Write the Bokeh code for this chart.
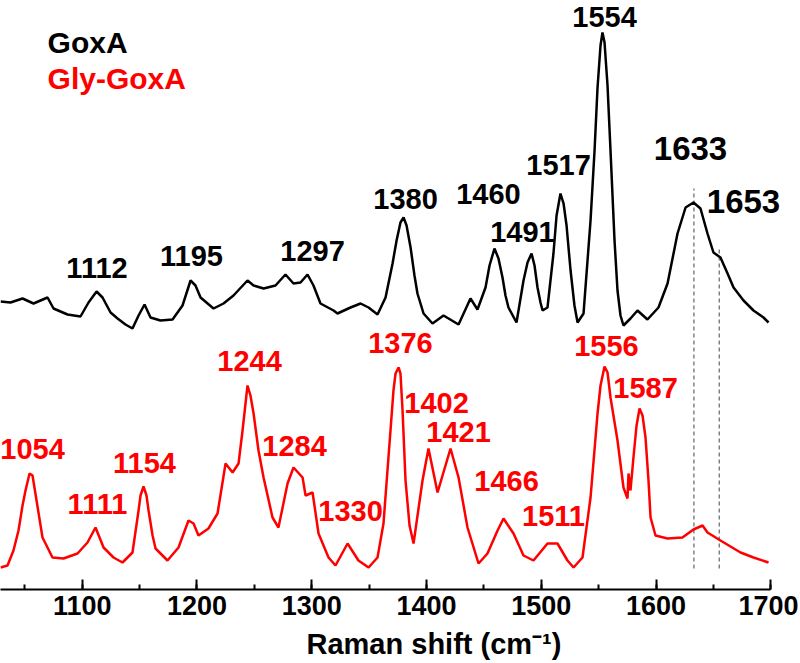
from bokeh.plotting import figure
from bokeh.models import Range1d, SingleIntervalTicker, ColumnDataSource, LabelSet, Title
from bokeh.core.properties import value
from bokeh.embed import file_html
from bokeh.resources import INLINE

# ---------------- data ----------------
goxa_x = [1028.8, 1037.5, 1048.0, 1057.6, 1069.8, 1075.0, 1087.2, 1098.5, 1105.5, 1112.5,
          1117.7, 1124.7, 1130.8, 1137.7, 1143.8, 1149.1, 1154.3, 1159.5, 1168.2, 1178.7,
          1187.4, 1194.4, 1198.7, 1203.1, 1214.4, 1223.1, 1231.8, 1244.0, 1249.3, 1258.0,
          1268.4, 1277.1, 1284.1, 1290.2, 1296.3, 1301.5, 1307.6, 1319.0, 1322.4, 1333.8,
          1342.5, 1349.5, 1357.3, 1364.3, 1370.4, 1373.9, 1377.3, 1380.0, 1382.6, 1386.1,
          1389.5, 1392.1, 1397.4, 1405.2, 1414.8, 1427.9, 1438.3, 1444.4, 1451.4, 1454.9,
          1459.2, 1462.7, 1466.2, 1468.8, 1471.4, 1478.4, 1484.5, 1488.0, 1491.5, 1494.1,
          1496.7, 1499.3, 1501.1, 1505.4, 1510.6, 1513.3, 1516.7, 1519.4, 1522.0, 1525.5,
          1528.9, 1531.6, 1536.8, 1542.9, 1546.4, 1549.0, 1551.6, 1553.3, 1555.1, 1557.7,
          1560.3, 1563.8, 1566.4, 1569.0, 1571.6, 1577.7, 1583.8, 1592.5, 1602.1, 1610.0,
          1618.7, 1625.7, 1632.6, 1638.7, 1644.8, 1650.0, 1656.1, 1662.3, 1667.5, 1676.2,
          1684.9, 1693.6, 1698.0]
goxa_y = [290, 289, 293, 288, 294, 283, 277, 275, 289, 300,
          294, 279, 273, 267, 263, 276, 287, 274, 271, 272,
          286, 311, 306, 294, 283, 288, 296, 311, 306, 303,
          306, 317, 308, 309, 317, 306, 288, 281, 278, 284,
          288, 284, 277, 294, 328, 351, 369, 374, 366, 344,
          316, 298, 278, 268, 276, 267, 293, 282, 304, 326,
          343, 333, 314, 296, 284, 269, 311, 329, 338, 326,
          304, 289, 281, 284, 338, 376, 398, 388, 366, 321,
          286, 269, 278, 371, 441, 504, 546, 559, 549, 506,
          441, 351, 301, 276, 266, 273, 281, 272, 284, 308,
          358, 384, 389, 383, 358, 339, 334, 318, 304, 291,
          281, 274, 269]

gly_x = [1028.8, 1034.9, 1040.1, 1044.5, 1048.0, 1050.6, 1054.1, 1056.7, 1060.2, 1065.4,
         1074.1, 1083.7, 1095.9, 1104.6, 1111.6, 1118.6, 1127.3, 1135.1, 1143.8, 1149.1,
         1150.8, 1153.4, 1156.0, 1157.8, 1161.3, 1163.9, 1174.3, 1183.9, 1192.6, 1197.0,
         1201.3, 1210.0, 1217.9, 1224.9, 1231.0, 1236.2, 1239.7, 1244.0, 1246.6, 1249.3,
         1253.6, 1258.0, 1265.8, 1271.0, 1278.9, 1284.1, 1292.0, 1294.6, 1300.7, 1305.9,
         1314.6, 1320.7, 1331.2, 1340.7, 1349.5, 1357.3, 1362.5, 1368.6, 1371.2, 1373.0,
         1375.6, 1377.3, 1379.1, 1381.7, 1385.2, 1388.7, 1396.5, 1401.7, 1409.6, 1420.9,
         1427.9, 1435.7, 1445.3, 1453.1, 1461.9, 1467.1, 1475.8, 1484.5, 1493.2, 1505.4,
         1514.1, 1522.8, 1528.1, 1535.9, 1542.9, 1549.0, 1551.6, 1555.1, 1557.7, 1560.3,
         1566.4, 1571.6, 1575.1, 1576.0, 1577.7, 1580.3, 1583.0, 1585.6, 1588.2, 1590.8,
         1593.4, 1595.2, 1599.5, 1610.0, 1623.0, 1632.6, 1640.5, 1644.8, 1656.1, 1673.6,
         1684.9, 1698.0]
gly_y = [24, 26, 41, 61, 86, 101, 118, 116, 91, 54,
         34, 33, 38, 49, 64, 44, 34, 29, 39, 81,
         96, 105, 96, 81, 56, 43, 31, 44, 71, 68,
         56, 63, 78, 128, 119, 128, 161, 206, 196, 178,
         141, 114, 74, 64, 108, 124, 114, 96, 99, 58,
         34, 26, 48, 31, 24, 34, 68, 161, 201, 218,
         224, 218, 181, 111, 66, 48, 111, 143, 99, 143,
         114, 64, 28, 38, 61, 73, 58, 36, 31, 48,
         48, 31, 24, 34, 94, 178, 206, 225, 219, 194,
         151, 104, 93, 118, 101, 134, 166, 183, 176, 154,
         111, 74, 56, 53, 54, 62, 66, 59, 51, 39,
         34, 29]

goxa_labels = ["1112", "1195", "1297", "1380", "1460", "1491", "1517", "1554"]
goxa_label_x = [1112.9, 1195.2, 1300.7, 1381.7, 1454.0, 1483.6, 1515.0, 1555.1]
goxa_label_y = [314, 326, 331, 383, 388, 350, 417, 565]

big_labels = ["1633", "1653"]
big_label_x = [1630.0, 1676.2]
big_label_y = [432, 379]

gly_labels = ["1054", "1111", "1154", "1244", "1284", "1330", "1376",
              "1402", "1421", "1466", "1511", "1556", "1587"]
gly_label_x = [1056.7, 1113.3, 1154.3, 1245.8, 1285.0, 1333.8, 1377.3,
               1408.7, 1427.9, 1469.7, 1510.6, 1556.8, 1590.8]
gly_label_y = [133, 78, 119, 221, 136, 71, 239,
               179, 150, 101, 66, 236, 194]

dash_x = [1633, 1655]
dash_top = [403, 345]
dash_bottom = [23, 23]

series_names = ["GoxA", "Gly-GoxA"]
legend_x = [1069.8, 1069.8]
legend_y = [539, 503]

x_title = "Raman shift (cm\u207b\u00b9)"

# ---------------- figure ----------------
FONT = "Liberation Sans"

p = figure(frame_width=798, frame_height=589, output_backend="svg",
           toolbar_location=None, x_range=Range1d(1028.8, 1724.1),
           y_range=Range1d(2, 591), min_border_left=0, min_border_right=0,
           min_border_top=0, min_border_bottom=0)
p.outline_line_color = None
p.xgrid.visible = False
p.ygrid.visible = False
p.yaxis.visible = False
p.background_fill_color = "white"
p.border_fill_color = "white"

ax = p.xaxis[0]
ax.ticker = SingleIntervalTicker(interval=100, num_minor_ticks=2)
ax.bounds = (1028.8, 1700)
ax.axis_line_width = 2
ax.axis_line_color = "black"
ax.major_tick_in = 10
ax.major_tick_out = 0
ax.minor_tick_in = 5
ax.minor_tick_out = 0
ax.major_tick_line_width = 2
ax.minor_tick_line_width = 2
ax.major_label_text_font = FONT
ax.major_label_text_font_style = "bold"
ax.major_label_text_font_size = "27px"
ax.major_label_text_color = "black"
ax.major_label_standoff = 6

p.add_layout(Title(text=x_title, align="left", offset=306, standoff=17,
                   text_font=FONT, text_font_style="bold", text_font_size="29px",
                   text_color="black"), "below")

# dashed guide lines
p.segment(x0=dash_x, y0=dash_bottom, x1=dash_x, y1=dash_top,
          line_color="#444444", line_width=1, line_dash="4 3")

# spectra
p.line(goxa_x, goxa_y, line_color="black", line_width=2.5)
p.line(gly_x, gly_y, line_color="#ff0000", line_width=2.5)


def add_labels(texts, xs, ys, color, size, align="center"):
    src = ColumnDataSource(dict(x=xs, y=ys, text=texts))
    p.add_layout(LabelSet(x="x", y="y", text="text", source=src,
                          text_align=align, text_baseline="alphabetic",
                          text_font=value(FONT), text_font_style="bold",
                          text_font_size=value(size), text_color=color))


add_labels(goxa_labels, goxa_label_x, goxa_label_y, "black", "29px")
add_labels(big_labels, big_label_x, big_label_y, "black", "33px")
add_labels(gly_labels, gly_label_x, gly_label_y, "#ff0000", "29px")

# legend texts
add_labels([series_names[0]], [legend_x[0]], [legend_y[0]], "black", "30px", align="left")
add_labels([series_names[1]], [legend_x[1]], [legend_y[1]], "#ff0000", "30px", align="left")

open("out.html", "w").write(file_html(p, INLINE))
